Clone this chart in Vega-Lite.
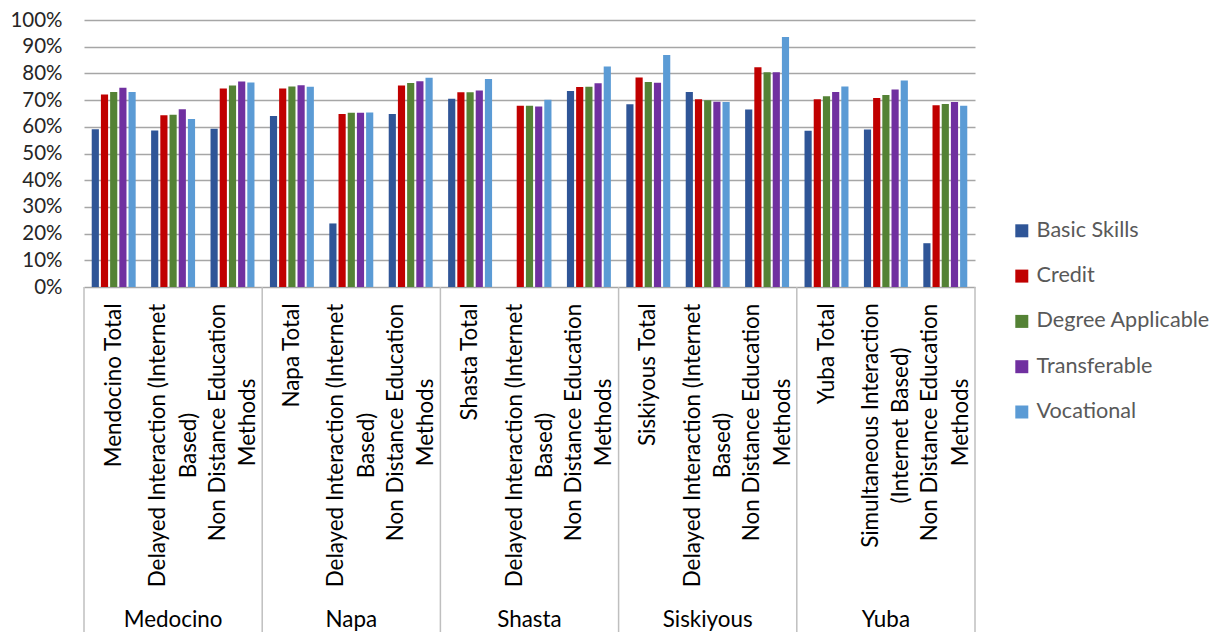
{
  "$schema": "https://vega.github.io/schema/vega-lite/v6.json",
  "background": "white",
  "padding": {"left": 0, "top": 10, "right": 0, "bottom": 0},
  "config": {"font": "Lato", "view": {"stroke": null}},
  "datasets": {
    "rates": [
      {"group": "Medocino", "sub": "Mendocino Total", "Basic Skills": 0.591, "Credit": 0.721, "Degree Applicable": 0.730, "Transferable": 0.746, "Vocational": 0.730},
      {"group": "Medocino", "sub": "Delayed Interaction (Internet\nBased)", "Basic Skills": 0.586, "Credit": 0.643, "Degree Applicable": 0.645, "Transferable": 0.666, "Vocational": 0.629},
      {"group": "Medocino", "sub": "Non Distance Education\nMethods", "Basic Skills": 0.593, "Credit": 0.743, "Degree Applicable": 0.755, "Transferable": 0.770, "Vocational": 0.766},
      {"group": "Napa", "sub": "Napa Total", "Basic Skills": 0.640, "Credit": 0.743, "Degree Applicable": 0.751, "Transferable": 0.756, "Vocational": 0.750},
      {"group": "Napa", "sub": "Delayed Interaction (Internet\nBased)", "Basic Skills": 0.238, "Credit": 0.648, "Degree Applicable": 0.653, "Transferable": 0.653, "Vocational": 0.654},
      {"group": "Napa", "sub": "Non Distance Education\nMethods", "Basic Skills": 0.648, "Credit": 0.755, "Degree Applicable": 0.764, "Transferable": 0.771, "Vocational": 0.784},
      {"group": "Shasta", "sub": "Shasta Total", "Basic Skills": 0.705, "Credit": 0.729, "Degree Applicable": 0.729, "Transferable": 0.736, "Vocational": 0.779},
      {"group": "Shasta", "sub": "Delayed Interaction (Internet\nBased)", "Basic Skills": null, "Credit": 0.679, "Degree Applicable": 0.679, "Transferable": 0.676, "Vocational": 0.701},
      {"group": "Shasta", "sub": "Non Distance Education\nMethods", "Basic Skills": 0.734, "Credit": 0.749, "Degree Applicable": 0.750, "Transferable": 0.763, "Vocational": 0.826},
      {"group": "Siskiyous", "sub": "Siskiyous Total", "Basic Skills": 0.684, "Credit": 0.785, "Degree Applicable": 0.768, "Transferable": 0.765, "Vocational": 0.869},
      {"group": "Siskiyous", "sub": "Delayed Interaction (Internet\nBased)", "Basic Skills": 0.730, "Credit": 0.703, "Degree Applicable": 0.699, "Transferable": 0.694, "Vocational": 0.693},
      {"group": "Siskiyous", "sub": "Non Distance Education\nMethods", "Basic Skills": 0.665, "Credit": 0.823, "Degree Applicable": 0.804, "Transferable": 0.804, "Vocational": 0.936},
      {"group": "Yuba", "sub": "Yuba Total", "Basic Skills": 0.585, "Credit": 0.703, "Degree Applicable": 0.714, "Transferable": 0.730, "Vocational": 0.751},
      {"group": "Yuba", "sub": "Simultaneous Interaction\n(Internet Based)", "Basic Skills": 0.590, "Credit": 0.708, "Degree Applicable": 0.719, "Transferable": 0.740, "Vocational": 0.773},
      {"group": "Yuba", "sub": "Non Distance Education\nMethods", "Basic Skills": 0.164, "Credit": 0.681, "Degree Applicable": 0.685, "Transferable": 0.693, "Vocational": 0.679}
    ],
    "groups": [
      {"group": "Medocino"},
      {"group": "Napa"},
      {"group": "Shasta"},
      {"group": "Siskiyous"},
      {"group": "Yuba"}
    ]
  },
  "bounds": "flush",
  "spacing": 0,
  "resolve": {"scale": {"x": "independent"}},
  "vconcat": [
    {
      "width": 891,
      "height": 267,
      "data": {"name": "rates"},
      "transform": [
        {"fold": ["Basic Skills", "Credit", "Degree Applicable", "Transferable", "Vocational"], "as": ["series", "value"]},
        {"calculate": "datum.group + '|' + datum.sub", "as": "key"}
      ],
      "mark": {"type": "bar"},
      "encoding": {
        "x": {
          "field": "key",
          "type": "nominal",
          "sort": null,
          "scale": {"paddingInner": 0.226, "paddingOuter": 0.113},
          "axis": {
            "title": null,
            "domain": false,
            "ticks": false,
            "labelAngle": 270,
            "labelAlign": {"condition": {"test": "indexof(datum.label, '\\n') >= 0", "value": "center"}, "value": "right"},
            "labelBaseline": "middle",
            "labelPadding": {
              "condition": [
                {"test": "indexof(datum.label, 'Delayed') >= 0", "value": 158},
                {"test": "indexof(datum.label, 'Non Distance') >= 0", "value": 135},
                {"test": "indexof(datum.label, 'Simultaneous') >= 0", "value": 138}
              ],
              "value": 16
            },
            "labelLimit": 0,
            "labelFontSize": 22.4,
            "labelColor": "#000000",
            "labelLineHeight": 30.5,
            "labelOffset": {"condition": {"test": "indexof(datum.label, '\\n') >= 0", "value": -15}, "value": 0},
            "labelExpr": "split(split(datum.label, '|')[1], '\\n')"
          }
        },
        "xOffset": {
          "field": "series",
          "type": "nominal",
          "sort": null,
          "scale": {"paddingInner": 0.22, "paddingOuter": 0.11}
        },
        "y": {
          "field": "value",
          "type": "quantitative",
          "scale": {"domain": [0, 1], "nice": false},
          "axis": {
            "title": null,
            "format": ".0%",
            "values": [0, 0.1, 0.2, 0.3, 0.4, 0.5, 0.6, 0.7, 0.8, 0.9, 1],
            "domain": false,
            "ticks": false,
            "labelFontSize": 20.5,
            "labelColor": "#262626",
            "labelPadding": 22,
            "gridColor": "#A6A6A6",
            "gridWidth": 1.4,
            "minExtent": 84,
            "maxExtent": 84
          }
        },
        "color": {
          "field": "series",
          "type": "nominal",
          "sort": null,
          "scale": {
            "domain": ["Basic Skills", "Credit", "Degree Applicable", "Transferable", "Vocational"],
            "range": ["#2F5597", "#C00000", "#548235", "#7030A0", "#5B9BD5"]
          },
          "legend": {
            "title": null,
            "orient": "none",
            "legendX": 927,
            "legendY": 200,
            "symbolType": "square",
            "symbolSize": 169,
            "symbolStrokeWidth": 0,
            "labelFontSize": 21.6,
            "labelColor": "#595959",
            "labelLimit": 0,
            "labelOffset": 4,
            "rowPadding": 22.3
          }
        }
      }
    },
    {
      "width": 891,
      "height": 345,
      "data": {"name": "groups"},
      "encoding": {
        "x": {
          "field": "group",
          "type": "nominal",
          "scale": {"paddingInner": 0, "paddingOuter": 0},
          "axis": null
        }
      },
      "layer": [
        {
          "mark": {"type": "rule", "color": "#BFBFBF", "strokeWidth": 1.5},
          "encoding": {"x": {"field": "group", "type": "nominal", "bandPosition": 0}}
        },
        {
          "transform": [{"filter": "datum.group === 'Yuba'"}],
          "mark": {"type": "rule", "color": "#BFBFBF", "strokeWidth": 1.5},
          "encoding": {"x": {"field": "group", "type": "nominal", "bandPosition": 1}}
        },
        {
          "mark": {"type": "text", "fontSize": 22.4, "color": "#000000", "baseline": "alphabetic", "dy": -5},
          "encoding": {
            "y": {"value": "height"},
            "text": {"field": "group"}
          }
        }
      ]
    }
  ]
}
